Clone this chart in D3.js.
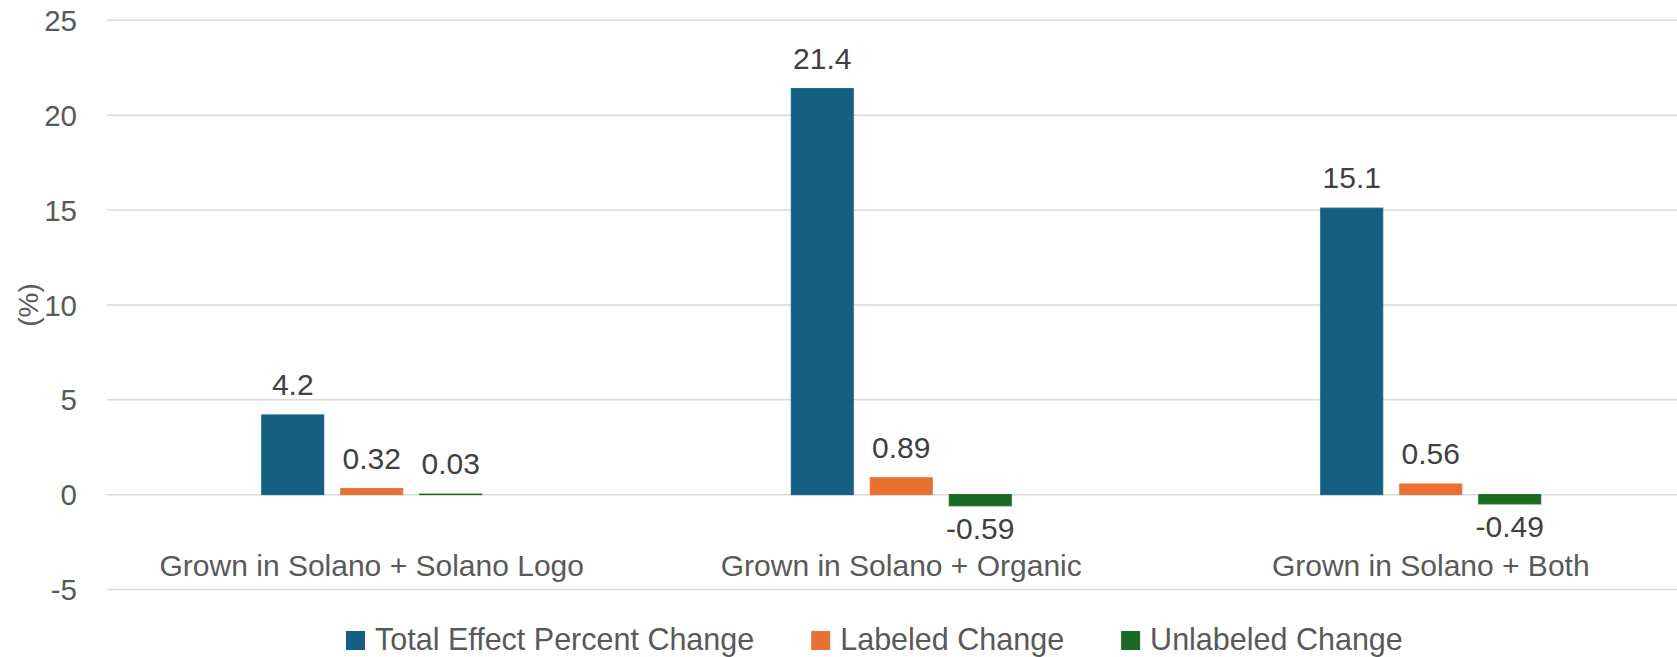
<!DOCTYPE html>
<html>
<head>
<meta charset="utf-8">
<script src="https://cdn.jsdelivr.net/npm/d3@7"></script>
<style>
  html, body { margin: 0; padding: 0; background: #ffffff; }
  svg { display: block; font-family: "Liberation Sans", Arial, sans-serif; }
</style>
</head>
<body>
<svg id="chart" width="1677" height="657"></svg>
<script>
// Categories and series
const categories = [
  "Grown in Solano + Solano Logo",
  "Grown in Solano + Organic",
  "Grown in Solano + Both"
];
const seriesNames = ["Total Effect Percent Change", "Labeled Change", "Unlabeled Change"];
const totalEffect = [4.2, 21.4, 15.1];
const labeledChange = [0.32, 0.89, 0.56];
const unlabeledChange = [0.03, -0.59, -0.49];
const seriesLabels = [
  ["4.2", "21.4", "15.1"],
  ["0.32", "0.89", "0.56"],
  ["0.03", "-0.59", "-0.49"]
];
const yTicks = [-5, 0, 5, 10, 15, 20, 25];
const yTitle = "(%)";
const colors = ["#156082", "#E97132", "#196B24"];

const seriesValues = [totalEffect, labeledChange, unlabeledChange];

const svg = d3.select("#chart");

const plotLeft = 107, plotRight = 1695.5;
const x0 = d3.scaleBand().domain(categories).range([plotLeft, plotRight]).paddingInner(0).paddingOuter(0);
const x1 = d3.scaleBand().domain(seriesNames).range([-110, 110]).paddingInner(17 / 79).paddingOuter(0);
const y = d3.scaleLinear().domain([-5, 25]).range([589.5, 20.3]);

// Horizontal gridlines
svg.append("g").selectAll("line")
  .data(yTicks)
  .join("line")
  .attr("x1", plotLeft).attr("x2", plotRight)
  .attr("y1", d => y(d)).attr("y2", d => y(d))
  .attr("stroke", "#d9d9d9").attr("stroke-width", 1.5);

// Y tick labels
svg.append("g").selectAll("text")
  .data(yTicks)
  .join("text")
  .attr("x", 77).attr("y", d => y(d))
  .attr("dy", "0.36em")
  .attr("text-anchor", "end")
  .attr("font-size", 29.5)
  .attr("fill", "#595959")
  .text(d => d);

// Y axis title
svg.append("text")
  .attr("transform", "translate(38,305) rotate(-90)")
  .attr("text-anchor", "middle")
  .attr("font-size", 28)
  .attr("fill", "#595959")
  .text(yTitle);

// Bars
const rows = [];
seriesNames.forEach((s, si) => {
  categories.forEach((c, ci) => {
    rows.push({ series: s, si, cat: c, value: seriesValues[si][ci], label: seriesLabels[si][ci] });
  });
});

const barX = d => x0(d.cat) + x0.bandwidth() / 2 + x1(d.series);

svg.append("g").selectAll("rect")
  .data(rows)
  .join("rect")
  .attr("x", barX)
  .attr("width", x1.bandwidth())
  .attr("y", d => y(Math.max(0, d.value)))
  .attr("height", d => Math.abs(y(d.value) - y(0)))
  .attr("fill", d => colors[d.si])
  .attr("stroke", d => colors[d.si])
  .attr("stroke-width", 1);

// Value labels
svg.append("g").selectAll("text")
  .data(rows)
  .join("text")
  .attr("x", d => barX(d) + x1.bandwidth() / 2)
  .attr("y", d => d.value >= 0 ? y(d.value) - 20 : y(d.value) + 33)
  .attr("text-anchor", "middle")
  .attr("font-size", 30)
  .attr("fill", "#404040")
  .text(d => d.label);

// Category labels
svg.append("g").selectAll("text")
  .data(categories)
  .join("text")
  .attr("x", d => x0(d) + x0.bandwidth() / 2)
  .attr("y", 576)
  .attr("text-anchor", "middle")
  .attr("font-size", 30)
  .attr("fill", "#595959")
  .text(d => d);

// Legend
const legend = svg.append("g");
let lx = 346;
seriesNames.forEach((s, i) => {
  legend.append("rect")
    .attr("x", lx).attr("y", 631)
    .attr("width", 19).attr("height", 19)
    .attr("fill", colors[i]);
  const t = legend.append("text")
    .attr("x", lx + 29).attr("y", 650)
    .attr("font-size", 30.5)
    .attr("fill", "#595959")
    .text(s);
  lx += 29 + t.node().getComputedTextLength() + 57;
});
</script>
</body>
</html>
